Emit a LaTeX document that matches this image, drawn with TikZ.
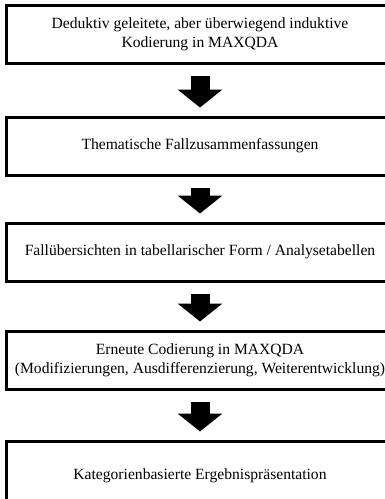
\documentclass[tikz,border=0pt]{standalone}
\usepackage{fontspec}
\setmainfont{Liberation Serif}
\usetikzlibrary{arrows.meta}
\begin{document}
\begin{tikzpicture}
      [x=1pt, y=1pt,
      stage/.style={draw, line width=3pt, minimum width=387pt, minimum height=58pt,
        inner sep=0pt, align=center, font=\fontsize{15.6}{19}\selectfont},
      flow/.style={line width=19pt, shorten <=11pt, shorten >=8pt,
        -{Triangle[width=44pt, length=18pt]}}]
      \useasboundingbox (0,0) rectangle (385,-499);
      \node[stage] (kod) at (200,-34)
        {Deduktiv geleitete, aber überwiegend induktive\\Kodierung in MAXQDA};
      \node[stage] (fall) at (200,-146) {Thematische Fallzusammenfassungen};
      \node[stage] (tab) at (200,-252)
        {Fallübersichten in tabellarischer Form / Analysetabellen};
      \node[stage] (neu) at (200,-360)
        {Erneute Codierung in MAXQDA\\(Modifizierungen, Ausdifferenzierung, Weiterentwicklung)};
      \node[stage, minimum height=70pt] (erg) at (200,-476)
        {Kategorienbasierte Ergebnispräsentation};
      \draw[flow] (kod) -- (fall);
      \draw[flow] (fall) -- (tab);
      \draw[flow] (tab) -- (neu);
      \draw[flow] (neu) -- (erg);
    \end{tikzpicture}
\end{document}
